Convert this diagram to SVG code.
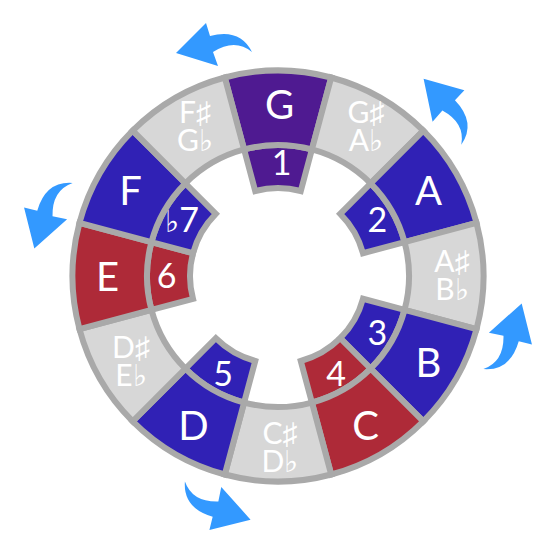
<svg xmlns="http://www.w3.org/2000/svg" xmlns:xlink="http://www.w3.org/1999/xlink" width="555" height="554" viewBox="0 0 555 554">
<style>
.seg{stroke:#a9a9a9;stroke-width:6}
.pu{fill:#4f1a91}
.bl{fill:#3021b5}
.rd{fill:#ae2a38}
.gy{fill:#d7d7d7}
text{font-family:Lato,"DejaVu Sans",sans-serif;fill:#ffffff;text-anchor:middle}
.note{font-size:40px}
.deg{font-size:34px}
.acc2{font-size:30px}
.sym{font-family:"DejaVu Sans",sans-serif;font-weight:200}
.arrow{fill:#3399ff}
</style>
<defs>
<path id="arr" d="M-102,-223 L-72,-253 L-68,-240 Q-38,-248 -26,-224 Q-43,-238 -65,-224 L-60,-210 Z"/>
</defs>
<rect width="555" height="554" fill="#ffffff"/>
<g id="degrees">
<g id="deg-1"><path class="seg pu" d="M244.10,149.46 A131,131 0 0 1 311.90,149.46 L300.78,191.00 A88,88 0 0 0 255.22,191.00 Z"/><text class="deg" x="281.5" y="175.2">1</text></g>
<g id="deg-2"><path class="seg bl" d="M370.63,183.37 A131,131 0 0 1 404.54,242.10 L363.00,253.22 A88,88 0 0 0 340.23,213.78 Z"/><text class="deg" x="377.4" y="231.7">2</text></g>
<g id="deg-3"><path class="seg bl" d="M404.54,309.90 A131,131 0 0 1 370.63,368.63 L340.23,338.23 A88,88 0 0 0 363.00,298.78 Z"/><text class="deg" x="377.4" y="344.7">3</text></g>
<g id="deg-4"><path class="seg rd" d="M370.63,368.63 A131,131 0 0 1 311.90,402.54 L300.78,361.00 A88,88 0 0 0 340.23,338.23 Z"/><text class="deg" x="336" y="386">4</text></g>
<g id="deg-5"><path class="seg bl" d="M244.10,402.54 A131,131 0 0 1 185.37,368.63 L215.78,338.23 A88,88 0 0 0 255.22,361.00 Z"/><text class="deg" x="223" y="386">5</text></g>
<g id="deg-6"><path class="seg rd" d="M151.46,309.90 A131,131 0 0 1 151.46,242.10 L193.00,253.22 A88,88 0 0 0 193.00,298.78 Z"/><text class="deg" x="166.5" y="288.2">6</text></g>
<g id="deg-b7"><path class="seg bl" d="M151.46,242.10 A131,131 0 0 1 185.37,183.37 L215.78,213.78 A88,88 0 0 0 193.00,253.22 Z"/><text class="deg" x="182" y="231.7"><tspan class="sym" font-size="30">♭</tspan>7</text></g>
</g>
<g id="notes">
<g id="note-G"><path class="seg pu" d="M224.81,77.50 A205.5,205.5 0 0 1 331.19,77.50 L311.90,149.46 A131,131 0 0 0 244.10,149.46 Z"/><text class="note" x="279.5" y="118.5">G</text></g>
<g id="note-Gs"><path class="seg gy" d="M331.19,77.50 A205.5,205.5 0 0 1 423.31,130.69 L370.63,183.37 A131,131 0 0 0 311.90,149.46 Z"/><text class="acc2" x="366" y="122.5">G<tspan class="sym">♯</tspan><tspan x="366" dy="28">A</tspan><tspan class="sym">♭</tspan></text></g>
<g id="note-A"><path class="seg bl" d="M423.31,130.69 A205.5,205.5 0 0 1 476.50,222.81 L404.54,242.10 A131,131 0 0 0 370.63,183.37 Z"/><text class="note" x="428.5" y="204.5">A</text></g>
<g id="note-As"><path class="seg gy" d="M476.50,222.81 A205.5,205.5 0 0 1 476.50,329.19 L404.54,309.90 A131,131 0 0 0 404.54,242.10 Z"/><text class="acc2" x="452" y="271.5">A<tspan class="sym">♯</tspan><tspan x="452" dy="28">B</tspan><tspan class="sym">♭</tspan></text></g>
<g id="note-B"><path class="seg bl" d="M476.50,329.19 A205.5,205.5 0 0 1 423.31,421.31 L370.63,368.63 A131,131 0 0 0 404.54,309.90 Z"/><text class="note" x="428.5" y="376.5">B</text></g>
<g id="note-C"><path class="seg rd" d="M423.31,421.31 A205.5,205.5 0 0 1 331.19,474.50 L311.90,402.54 A131,131 0 0 0 370.63,368.63 Z"/><text class="note" x="365.5" y="439.5">C</text></g>
<g id="note-Cs"><path class="seg gy" d="M331.19,474.50 A205.5,205.5 0 0 1 224.81,474.50 L244.10,402.54 A131,131 0 0 0 311.90,402.54 Z"/><text class="acc2" x="280" y="443.5">C<tspan class="sym">♯</tspan><tspan x="280" dy="28">D</tspan><tspan class="sym">♭</tspan></text></g>
<g id="note-D"><path class="seg bl" d="M224.81,474.50 A205.5,205.5 0 0 1 132.69,421.31 L185.37,368.63 A131,131 0 0 0 244.10,402.54 Z"/><text class="note" x="193.5" y="439.5">D</text></g>
<g id="note-Ds"><path class="seg gy" d="M132.69,421.31 A205.5,205.5 0 0 1 79.50,329.19 L151.46,309.90 A131,131 0 0 0 185.37,368.63 Z"/><text class="acc2" x="131" y="357.5">D<tspan class="sym">♯</tspan><tspan x="131" dy="28">E</tspan><tspan class="sym">♭</tspan></text></g>
<g id="note-E"><path class="seg rd" d="M79.50,329.19 A205.5,205.5 0 0 1 79.50,222.81 L151.46,242.10 A131,131 0 0 0 151.46,309.90 Z"/><text class="note" x="107.5" y="290.5">E</text></g>
<g id="note-F"><path class="seg bl" d="M79.50,222.81 A205.5,205.5 0 0 1 132.69,130.69 L185.37,183.37 A131,131 0 0 0 151.46,242.10 Z"/><text class="note" x="130.5" y="204.5">F</text></g>
<g id="note-Fs"><path class="seg gy" d="M132.69,130.69 A205.5,205.5 0 0 1 224.81,77.50 L244.10,149.46 A131,131 0 0 0 185.37,183.37 Z"/><text class="acc2" x="195" y="122.5">F<tspan class="sym">♯</tspan><tspan x="195" dy="28">G</tspan><tspan class="sym">♭</tspan></text></g>
</g>
<g id="connectors" class="arrow">
<use xlink:href="#arr" transform="translate(278 276) rotate(0)"/>
<use xlink:href="#arr" transform="translate(278 276) rotate(61)"/>
<use xlink:href="#arr" transform="translate(278 276) rotate(121)"/>
<use xlink:href="#arr" transform="translate(278 276) rotate(211)"/>
<use xlink:href="#arr" transform="translate(278 276) rotate(301)"/>
</g>
</svg>
